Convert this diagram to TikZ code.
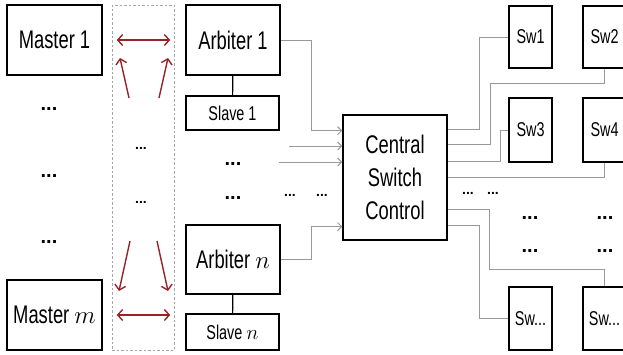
\documentclass[tikz,border=0pt]{standalone}
\usepackage{fontspec}
\newfontfamily\labelfont[FakeStretch=0.72]{Liberation Sans}
\newfontfamily\dotfont{Liberation Sans}
\usetikzlibrary{arrows.meta,calc}
\definecolor{busred}{RGB}{150,35,40}

\begin{document}
\begin{tikzpicture}[x=1pt,y=-1pt,
  box/.style={draw,line width=1.5pt,inner sep=0pt,align=center,font=\labelfont\fontsize{25.5}{33}\selectfont},
  small/.style={box,font=\labelfont\fontsize{20}{24}\selectfont},
  wire/.style={draw=gray!80,line width=1pt},
  wirearr/.style={wire,-{Straight Barb[length=4pt,width=8pt]}},
  busarr/.style={draw=busred,line width=1.4pt,>={Straight Barb[length=5pt,width=11pt]}},
  dots/.style={font=\dotfont\bfseries\fontsize{20}{20}\selectfont,inner sep=0pt},
  sdots/.style={font=\dotfont\bfseries\fontsize{14}{14}\selectfont,inner sep=0pt}
]
  \useasboundingbox (0,0) rectangle (623,354);
  \clip (0,0) rectangle (623,354);

  % masters and the shared bus
  \node[box,minimum width=95pt,minimum height=70pt] (master1) at (54.5,40) {Master 1};
  \node[box,minimum width=95pt,minimum height=70pt] (masterm) at (54.5,315) {Master $m$};
  \node[draw=gray!70,dashed,dash pattern=on 2.5pt off 2pt,line width=0.8pt,
        minimum width=62pt,minimum height=345pt] (bus) at (143,177.5) {};

  % arbiters with their slaves
  \node[box,minimum width=94pt,minimum height=70pt] (arb1) at (233,40) {Arbiter 1};
  \node[small,minimum width=93pt,minimum height=34pt] (slave1) at (232.5,113) {Slave 1};
  \node[box,minimum width=94pt,minimum height=69pt] (arbn) at (233,259.5) {Arbiter $n$};
  \node[small,minimum width=93pt,minimum height=36pt] (slaven) at (232.5,332) {Slave $n$};
  \draw[line width=1.2pt] (arb1) -- (slave1);
  \draw[line width=1.2pt] (arbn) -- (slaven);

  \node[box,minimum width=104pt,minimum height=125pt] (central) at (395,177.5) {Central\\Switch\\Control};

  % switches
  \node[small,minimum width=43pt,minimum height=62pt] (sw1) at (530.5,37) {Sw1};
  \node[small,minimum width=43pt,minimum height=62pt] (sw2) at (604.5,37) {Sw2};
  \node[small,minimum width=43pt,minimum height=64pt] (sw3) at (530.5,130) {Sw3};
  \node[small,minimum width=43pt,minimum height=64pt] (sw4) at (604.5,130) {Sw4};
  \node[small,minimum width=43pt,minimum height=63pt] (swa) at (530.5,318.5) {Sw...};
  \node[small,minimum width=43pt,minimum height=63pt] (swb) at (604.5,318.5) {Sw...};

  % ellipsis marks
  \node[dots] (dm1) at (49,109) {...};
  \node[dots] (dm2) at (49,176) {...};
  \node[dots] (dm3) at (49,242) {...};
  \node[sdots] (db1) at (141,148) {...};
  \node[sdots] (db2) at (141,202) {...};
  \node[dots] (da1) at (233,164) {...};
  \node[dots] (da2) at (233,198) {...};
  \node[sdots] (di1) at (290,195) {...};
  \node[sdots] (di2) at (322,195) {...};
  \node[sdots] (do1) at (468,193) {...};
  \node[sdots] (do2) at (493,193) {...};
  \node[dots] (ds1) at (530,218) {...};
  \node[dots] (ds2) at (530,251) {...};
  \node[dots] (ds3) at (605,218) {...};
  \node[dots] (ds4) at (605,251) {...};

  % requests through the bus
  \coordinate (ul0) at (129,98);  \coordinate (ul1) at (120,58);
  \coordinate (ur0) at (159,98);  \coordinate (ur1) at (168,58);
  \coordinate (dl0) at (130,241); \coordinate (dl1) at (119,291);
  \coordinate (dr0) at (157,241); \coordinate (dr1) at (168,291);
  \draw[busarr,<->,shorten <=14pt,shorten >=15pt] (master1) -- (arb1);
  \draw[busarr,<->,shorten <=14pt,shorten >=15pt] (masterm) -- ($(arbn.west |- masterm)$);
  \draw[busarr,->] (ul0) -- (ul1);
  \draw[busarr,->] (ur0) -- (ur1);
  \draw[busarr,->] (dl0) -- (dl1);
  \draw[busarr,->] (dr0) -- (dr1);

  % arbiters to the central control
  \coordinate (in2) at (289,146);
  \coordinate (in3) at (279,162);
  \draw[wirearr] (arb1.east) -- ++(31,0) |- ($(central.north west)!0.13!(central.south west)$);
  \draw[wirearr] (in2) -- (in2 -| central.west);
  \draw[wirearr] (in3) -- (in3 -| central.west);
  \draw[wirearr] (arbn.east) -- ++(31,0) |- ($(central.north west)!0.888!(central.south west)$);

  % central control to the switches
  \draw[wire] ($(central.north east)!0.12!(central.south east)$) -- ++(32,0) |- (sw1.west);
  \draw[wire] ($(central.north east)!0.24!(central.south east)$) -- ++(43,0)
    |- ($(sw2.south)+(0,15)$) -- (sw2.south);
  \draw[wire] ($(central.north east)!0.376!(central.south east)$) -- ++(53,0) |- (sw3.west);
  \draw[wire] ($(central.north east)!0.496!(central.south east)$) -| (sw4.south);
  \draw[wire] ($(central.north east)!0.752!(central.south east)$) -- ++(42,0)
    |- ($(swb.north)+(0,-17)$) -- (swb.north);
  \draw[wire] ($(central.north east)!0.88!(central.south east)$) -- ++(32,0) |- (swa.west);
\end{tikzpicture}
\end{document}
